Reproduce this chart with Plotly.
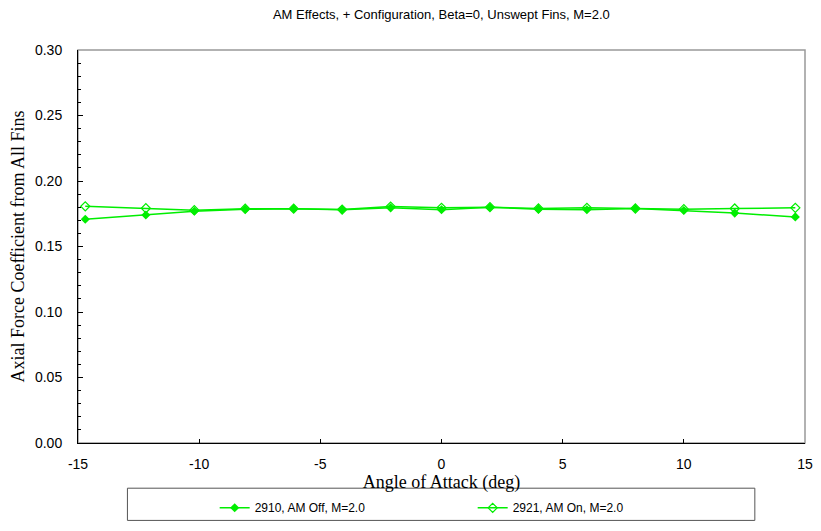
import plotly.graph_objects as go

# Angle of attack (deg)
alpha = [-14.7, -12.2, -10.2, -8.1, -6.1, -4.1, -2.1, 0.0, 2.0, 4.0, 6.0, 8.0, 10.0, 12.1, 14.6]

# Axial force coefficient from all fins
ca_am_off = [0.1708, 0.1741, 0.1769, 0.1784, 0.1789, 0.1780, 0.1795, 0.1780,
             0.1800, 0.1785, 0.1780, 0.1790, 0.1775, 0.1755, 0.1726]
ca_am_on = [0.1807, 0.1792, 0.1777, 0.1788, 0.1789, 0.1782, 0.1805, 0.1795,
            0.1800, 0.1790, 0.1795, 0.1790, 0.1785, 0.1790, 0.1795]

series_names = ["2910, AM Off, M=2.0", "2921, AM On, M=2.0"]

x_ticks = [-15, -10, -5, 0, 5, 10, 15]
x_ticktext = ["-15", "-10", "-5", "0", "5", "10", "15"]

green = "#00ee00"

fig = go.Figure()

fig.add_trace(go.Scatter(
    x=alpha, y=ca_am_off, name=series_names[0],
    mode="lines+markers",
    line=dict(color=green, width=1.5),
    marker=dict(symbol="diamond", size=7, color=green)
))
fig.add_trace(go.Scatter(
    x=alpha, y=ca_am_on, name=series_names[1],
    mode="lines+markers",
    line=dict(color=green, width=1.5),
    marker=dict(symbol="diamond-open", size=7, color=green, line=dict(width=1.2))
))

# gray frame around plot area, then legend box
fig.add_shape(type="rect", xref="paper", yref="paper", x0=0, x1=1, y0=0, y1=1,
              line=dict(color="#999999", width=1.5), layer="below")
fig.add_shape(type="rect", xref="paper", yref="paper", x0=0.068, x1=0.931, y0=-0.115, y1=-0.197,
              line=dict(color="#555555", width=1))

# page body has an 8px margin, so the figure is sized 8px smaller
fig.update_layout(
    width=813, height=523,
    margin=dict(l=70, r=8, t=42, b=88),
    paper_bgcolor="white", plot_bgcolor="white",
    title=dict(text="AM Effects, + Configuration, Beta=0, Unswept Fins, M=2.0",
               x=0.533, xanchor="center", y=0.987, yanchor="middle",
               font=dict(family="Liberation Sans, Arial", size=13, color="black")),
    font=dict(family="Liberation Sans, Arial", size=14, color="black"),
    legend=dict(orientation="h", x=0.188, xanchor="left", y=-0.128, yanchor="top",
                entrywidth=213, font=dict(size=12), bgcolor="rgba(0,0,0,0)",
                itemwidth=30),
    showlegend=True,
)

fig.update_xaxes(
    range=[-15, 15], tickvals=x_ticks, ticktext=x_ticktext,
    showgrid=False, zeroline=False,
    showline=True, linecolor="black", linewidth=1,
    ticks="inside", ticklen=4, tickcolor="black", ticklabelstandoff=8,
    title=dict(text="Angle of Attack (deg)", standoff=3,
               font=dict(family="Liberation Serif, Times New Roman", size=18)),
)
fig.update_yaxes(
    range=[0, 0.30], dtick=0.05, tickformat=".2f",
    showgrid=False, zeroline=False,
    showline=True, linecolor="black", linewidth=1,
    ticks="inside", ticklen=5, tickcolor="black", ticklabelstandoff=12,
    minor=dict(dtick=0.01, ticks="inside", ticklen=3, tickcolor="black"),
    title=dict(text="Axial Force Coefficient from All Fins", standoff=5,
               font=dict(family="Liberation Serif, Times New Roman", size=18)),
)

fig.write_html("out.html")
